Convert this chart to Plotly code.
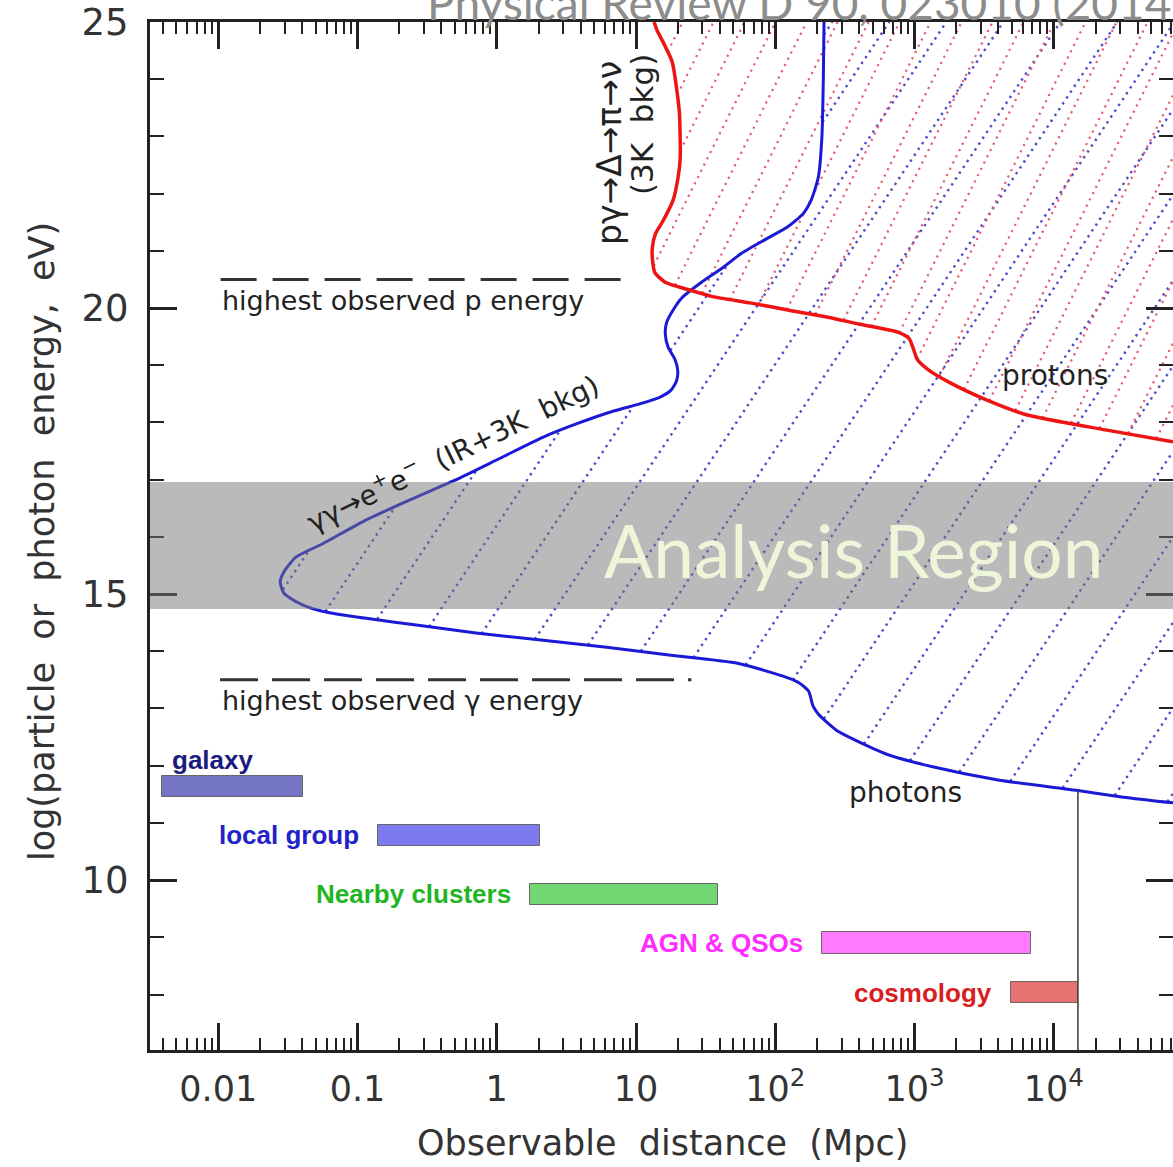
import numpy as np
import plotly.graph_objects as go

# ---------------- data ----------------
# photon horizon curve: log10(distance/Mpc), log10(E/eV)
photon_logd = [4.86, 4.50, 4.16, 3.60, 3.13, 2.80, 2.57, 2.45, 2.38, 2.31, 2.27, 2.24, 2.17, 2.05,
               1.73, 1.25, 0.79, 0.30, -0.15, -0.55, -0.95, -1.15, -1.33, -1.45, -1.53, -1.555,
               -1.52, -1.44, -1.25, -0.95, -0.62, -0.30, 0.02, 0.33, 0.60, 0.84, 1.02, 1.17,
               1.25, 1.29, 1.30, 1.28, 1.23, 1.21, 1.22, 1.27, 1.33, 1.47, 1.62, 1.76, 1.93,
               2.09, 2.20, 2.26, 2.31, 2.335, 2.345, 2.35]
photon_loge = [11.35, 11.45, 11.57, 11.75, 11.98, 12.20, 12.45, 12.60, 12.74, 12.90, 13.05, 13.30,
               13.45, 13.57, 13.79, 13.93, 14.07, 14.20, 14.32, 14.45, 14.58, 14.65, 14.75, 14.88,
               15.02, 15.22, 15.42, 15.65, 15.88, 16.28, 16.65, 16.99, 17.37, 17.74, 18.00, 18.20,
               18.32, 18.44, 18.56, 18.72, 18.90, 19.10, 19.32, 19.55, 19.75, 19.98, 20.18, 20.45,
               20.70, 20.96, 21.20, 21.42, 21.65, 21.90, 22.30, 23.00, 24.00, 25.00]

# proton horizon curve
proton_logd = [4.856, 4.37, 3.81, 3.52, 3.25, 3.10, 3.02, 2.99, 2.96, 2.88, 2.60, 2.38, 2.10, 1.82,
               1.55, 1.39, 1.21, 1.135, 1.12, 1.117, 1.14, 1.20, 1.267, 1.30, 1.317, 1.317, 1.31,
               1.26, 1.20, 1.15, 1.13]
proton_loge = [17.66, 17.87, 18.13, 18.39, 18.70, 18.92, 19.10, 19.30, 19.47, 19.58, 19.72, 19.84,
               19.96, 20.09, 20.20, 20.31, 20.45, 20.62, 20.80, 21.05, 21.30, 21.55, 21.89, 22.25,
               22.60, 23.00, 23.46, 24.30, 24.62, 24.86, 25.00]

# highest observed energies (dashed lines)
obs_p_energy = 20.5
obs_p_dist = [0.0104, 8.8]
obs_g_energy = 13.5
obs_g_dist = [0.0103, 25.0]

# Hubble distance line (Mpc)
hubble_dist = 1.49e4

# source classes (bars)
source_names = ["galaxy", "local group", "Nearby clusters", "AGN & QSOs", "cosmology"]
source_dmin = [0.00396, 0.141, 1.74, 217.0, 4930.0]
source_dmax = [0.0407, 2.05, 38.8, 6850.0, 14900.0]
source_loge = [11.63, 10.78, 9.75, 8.90, 8.03]
source_fill = ["#7575c6", "#7b7bee", "#72d672", "#ff7aff", "#e87272"]
source_text = ["#1b1b7e", "#2222c8", "#22b522", "#ff2cff", "#d81e1e"]

# axis ticks
x_tickvals = [0.01, 0.1, 1, 10, 100, 1000, 10000]
x_ticktext = ["0.01", "0.1", "1", "10", "10<sup>2</sup>", "10<sup>3</sup>", "10<sup>4</sup>"]
x_minor = [m * 10.0 ** k for k in range(-3, 5) for m in range(2, 10)]

analysis_band = [14.74, 16.96]

# ---------------- geometry ----------------
W, H = 1173, 1167
ML, MR, MT, MB = 150, 0, 22, 117
XR = [-2.49, 4.856]
YR = [7.03, 25.0]
PX_DEC = (W - ML - MR) / (XR[1] - XR[0])
PX_E = (H - MT - MB) / (YR[1] - YR[0])


def hatch(cx, cy, slope_px, spacing_px, phase=0.0):
    """dotted diagonal hatch lines filling the region right of a curve"""
    cx = np.asarray(cx, float)
    cy = np.asarray(cy, float)
    m = slope_px * PX_DEC / PX_E
    ys = np.arange(YR[0], YR[1] + 1e-9, 0.01)
    bx = np.interp(ys, cy, cx, left=np.inf, right=cx[-1])
    dc = m * spacing_px / PX_DEC
    c0 = YR[0] - m * XR[1] + phase * dc
    c1 = YR[1] - m * XR[0]
    X, Y = [], []
    for c in np.arange(c0, c1, dc):
        xs = (ys - c) / m
        ok = (xs >= bx) & (xs <= XR[1]) & (xs >= XR[0])
        if not ok.any():
            continue
        for xv, yv, k in zip(xs, ys, ok):
            if k:
                X.append(10.0 ** xv)
                Y.append(float(yv))
            else:
                X.append(None)
                Y.append(None)
        X.append(None)
        Y.append(None)
    return X, Y


def dx(px):
    """pixel column -> log10 distance (for label placement)"""
    return XR[0] + (px - ML) / PX_DEC


def dy(py):
    """pixel row -> log energy (for label placement)"""
    return YR[1] - (py - MT) / PX_E


fig = go.Figure()

hx, hy = hatch(photon_logd, photon_loge, 1.5, 57)
fig.add_trace(go.Scatter(x=hx, y=hy, mode="lines", hoverinfo="skip", showlegend=False,
                         line=dict(color="rgba(78,78,200,1)", width=2.4, dash="2.4px,4.6px")))
hx, hy = hatch(proton_logd, proton_loge, 2.0, 31, phase=0.4)
fig.add_trace(go.Scatter(x=hx, y=hy, mode="lines", hoverinfo="skip", showlegend=False,
                         line=dict(color="rgba(226,96,118,1)", width=2.2, dash="2.2px,4.8px")))

# curves
fig.add_trace(go.Scatter(x=[10 ** v for v in photon_logd], y=photon_loge, mode="lines",
                         line=dict(color="#1a1ad6", width=3, shape="spline", smoothing=0.6),
                         showlegend=False, hoverinfo="skip"))
fig.add_trace(go.Scatter(x=[10 ** v for v in proton_logd], y=proton_loge, mode="lines",
                         line=dict(color="#ee1414", width=3.5, shape="spline", smoothing=0.6),
                         showlegend=False, hoverinfo="skip"))

# dashed "highest observed" lines
fig.add_trace(go.Scatter(x=obs_p_dist, y=[obs_p_energy] * 2, mode="lines", showlegend=False,
                         hoverinfo="skip", line=dict(color="#333333", width=3, dash="36px,16px")))
fig.add_trace(go.Scatter(x=obs_g_dist, y=[obs_g_energy] * 2, mode="lines", showlegend=False,
                         hoverinfo="skip", line=dict(color="#333333", width=3, dash="38px,14px")))

# Hubble distance vertical line up to photon curve
lower = slice(0, 26)
yh = float(np.interp(np.log10(hubble_dist), photon_logd[lower][::-1], photon_loge[lower][::-1]))
fig.add_trace(go.Scatter(x=[hubble_dist, hubble_dist], y=[YR[0], yh], mode="lines",
                         showlegend=False, hoverinfo="skip", line=dict(color="#444444", width=1.6)))

# source bars
fig.add_trace(go.Bar(orientation="h", y=source_loge,
                     x=[b - a for a, b in zip(source_dmin, source_dmax)], base=source_dmin,
                     width=0.37, marker=dict(color=source_fill, line=dict(color="#666666", width=1)),
                     showlegend=False, hoverinfo="skip"))

# dummy trace for the overlay axes (minor ticks / right ticks)
fig.add_trace(go.Scatter(x=[None], y=[None], xaxis="x2", yaxis="y2", showlegend=False,
                         hoverinfo="skip"))

FONT = "DejaVu Sans"
ann = []


def px_to_paper(px, py):
    return (px - ML) / (W - ML - MR), (H - MB - py) / (H - MT - MB)


# source labels
for i, name in enumerate(source_names):
    f = dict(family="Liberation Sans", size=26, color=source_text[i], weight="bold")
    if i == 0:
        ann.append(dict(x=dx(170), y=dy(760), xref="x", yref="y", text=name,
                        xanchor="left", yanchor="middle", showarrow=False, font=f))
    else:
        ann.append(dict(x=np.log10(source_dmin[i]), y=source_loge[i], xref="x", yref="y",
                        text=name, xanchor="right", yanchor="middle", xshift=-17,
                        showarrow=False, font=f))

txt = dict(family=FONT, size=27, color="#222222")
ann += [
    dict(x=dx(220), y=dy(300), xref="x", yref="y",
         text="highest observed p energy", xanchor="left", yanchor="middle",
         showarrow=False, font=txt),
    dict(x=dx(220), y=dy(700), xref="x", yref="y",
         text="highest observed γ energy", xanchor="left", yanchor="middle",
         showarrow=False, font=txt),
    dict(x=dx(452), y=dy(452), xref="x", yref="y", xanchor="center", yanchor="middle",
         text="γγ→e<sup>+</sup>e<sup>−</sup>  (IR+3K  bkg)", textangle=-26,
         showarrow=False, font=dict(family=FONT, size=28, color="#222222")),
    dict(x=dx(609), y=dy(153), xref="x", yref="y", xanchor="center", yanchor="middle",
         text="pγ→Δ→π→ν", textangle=-90,
         showarrow=False, font=dict(family=FONT, size=33, color="#222222")),
    dict(x=dx(642), y=dy(125), xref="x", yref="y", xanchor="center", yanchor="middle",
         text="(3K  bkg)", textangle=-90,
         showarrow=False, font=dict(family=FONT, size=31, color="#222222")),
    dict(x=dx(1055), y=dy(375), xref="x", yref="y", xanchor="center", yanchor="middle",
         text="protons", showarrow=False, font=dict(family=FONT, size=28, color="#222222")),
    dict(x=dx(905), y=dy(792), xref="x", yref="y", xanchor="center", yanchor="middle",
         text="photons", showarrow=False, font=dict(family=FONT, size=28, color="#222222")),
]

# axis titles
px, py = px_to_paper(42, 542)
ann.append(dict(x=px, y=py, xref="paper", yref="paper", xanchor="center", yanchor="middle",
                text="log(particle  or  photon  energy,  eV)",
                textangle=-90, showarrow=False, font=dict(family=FONT, size=35, color="#333333")))
px, py = px_to_paper(662, 1143)
ann.append(dict(x=px, y=py, xref="paper", yref="paper", xanchor="center", yanchor="middle",
                text="Observable  distance  (Mpc)",
                showarrow=False, font=dict(family=FONT, size=35, color="#333333")))

# source title (cut at top)
px, py = px_to_paper(425, 2)
ann.append(dict(x=px, y=py, xref="paper", yref="paper", text="Physical Review D 90, 023010 (2014)",
                xanchor="left", yanchor="middle", showarrow=False,
                font=dict(family="Lato", size=46, color="#8c8c8c")))

# Analysis Region band + text
px, py = px_to_paper(853, 550)
ann.append(dict(x=px, y=py, xref="paper", yref="paper", text="Analysis Region",
                xanchor="center", yanchor="middle", showarrow=False,
                font=dict(family="Lato", size=73, color="#eef6da")))

shapes = [dict(type="rect", xref="paper", yref="y", x0=0, x1=1, y0=analysis_band[0],
               y1=analysis_band[1], fillcolor="rgba(118,118,118,0.5)", line=dict(width=0),
               layer="above")]

axis_col = "#222222"
fig.update_layout(
    width=W, height=H, margin=dict(l=ML, r=MR, t=MT, b=MB, autoexpand=False),
    paper_bgcolor="white", plot_bgcolor="white", showlegend=False, bargap=0,
    annotations=ann, shapes=shapes,
    xaxis=dict(type="log", range=XR, tickvals=x_tickvals, ticktext=x_ticktext,
               ticks="inside", ticklen=27, tickwidth=2.5, tickcolor=axis_col,
               showline=True, linewidth=3, linecolor=axis_col, mirror="ticks",
               showgrid=False, zeroline=False, ticklabelstandoff=6,
               tickfont=dict(family=FONT, size=35, color="#333333")),
    xaxis2=dict(type="log", range=XR, overlaying="x", anchor="y", side="bottom",
                tickvals=x_minor, ticks="inside", ticklen=12, tickwidth=2, tickcolor=axis_col,
                showline=True, linewidth=3, linecolor=axis_col, mirror="ticks",
                showticklabels=False, showgrid=False, zeroline=False),
    yaxis=dict(range=YR, tick0=0, dtick=5, ticks="inside", ticklen=27, tickwidth=2.5,
               tickcolor=axis_col, showline=True, linewidth=3, linecolor=axis_col,
               mirror=False, showgrid=False, zeroline=False, ticklabelstandoff=11,
               minor=dict(ticks="inside", ticklen=14, tickwidth=2, tickcolor=axis_col,
                          dtick=1, showgrid=False),
               tickfont=dict(family=FONT, size=37, color="#333333")),
    yaxis2=dict(range=YR, overlaying="y", anchor="x", side="right", tick0=0, dtick=5,
                ticks="inside", ticklen=27, tickwidth=2.5, tickcolor=axis_col,
                showline=False, showticklabels=False, showgrid=False, zeroline=False,
                minor=dict(ticks="inside", ticklen=14, tickwidth=2, tickcolor=axis_col,
                           dtick=1, showgrid=False)),
)

fig.write_html("out.html", config={"displayModeBar": False},
               post_script="document.body.style.margin='0';document.body.style.overflow='hidden';")
